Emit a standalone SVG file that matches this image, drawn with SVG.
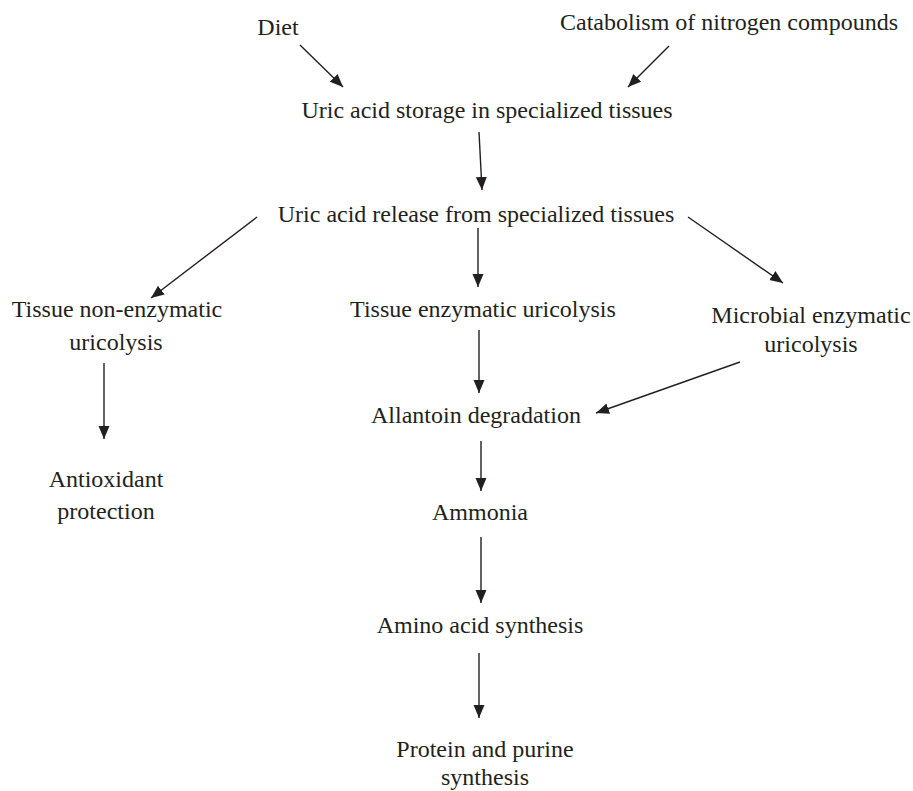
<svg xmlns="http://www.w3.org/2000/svg" width="913" height="791" viewBox="0 0 913 791">
<style>
text{font-family:"Liberation Serif","Times New Roman",serif;font-size:24px;fill:#231f20;text-anchor:middle}
.c line{stroke:#231f20;stroke-width:1.4;fill:none;marker-end:url(#ah)}
</style>
<defs>
<marker id="ah" markerUnits="userSpaceOnUse" markerWidth="14" markerHeight="12" refX="13" refY="5.5" orient="auto">
<path d="M0,0 L13,5.5 L0,11 z" fill="#231f20"/>
</marker>
</defs>
<rect width="913" height="791" fill="#fff"/>
<g id="diet"><text x="278" y="35">Diet</text></g>
<g id="catabolism"><text x="729" y="30">Catabolism of nitrogen compounds</text></g>
<g id="storage"><text x="487" y="118">Uric acid storage in specialized tissues</text></g>
<g id="release"><text x="476" y="222">Uric acid release from specialized tissues</text></g>
<g id="nonenz"><text x="117" y="317">Tissue non-enzymatic</text><text x="116" y="350">uricolysis</text></g>
<g id="tissueenz"><text x="483" y="317">Tissue enzymatic uricolysis</text></g>
<g id="microbial"><text x="811" y="323">Microbial enzymatic</text><text x="811" y="352">uricolysis</text></g>
<g id="allantoin"><text x="476" y="423">Allantoin degradation</text></g>
<g id="antioxidant"><text x="106" y="487">Antioxidant</text><text x="106" y="519">protection</text></g>
<g id="ammonia"><text x="480" y="520">Ammonia</text></g>
<g id="amino"><text x="480" y="633">Amino acid synthesis</text></g>
<g id="protein"><text x="485" y="757">Protein and purine</text><text x="485" y="785">synthesis</text></g>
<g id="connectors" class="c">
<line x1="300" y1="45" x2="343" y2="87"/>
<line x1="669" y1="46" x2="628" y2="87"/>
<line x1="479" y1="132" x2="482" y2="190"/>
<line x1="257" y1="217" x2="151" y2="298"/>
<line x1="478" y1="228" x2="478" y2="287"/>
<line x1="688" y1="217" x2="783" y2="283"/>
<line x1="104" y1="363" x2="104" y2="439"/>
<line x1="479" y1="330" x2="479" y2="393"/>
<line x1="740" y1="362" x2="596" y2="413"/>
<line x1="481" y1="441" x2="481" y2="491"/>
<line x1="481" y1="537" x2="481" y2="603"/>
<line x1="479" y1="653" x2="479" y2="718"/>
</g>
</svg>
